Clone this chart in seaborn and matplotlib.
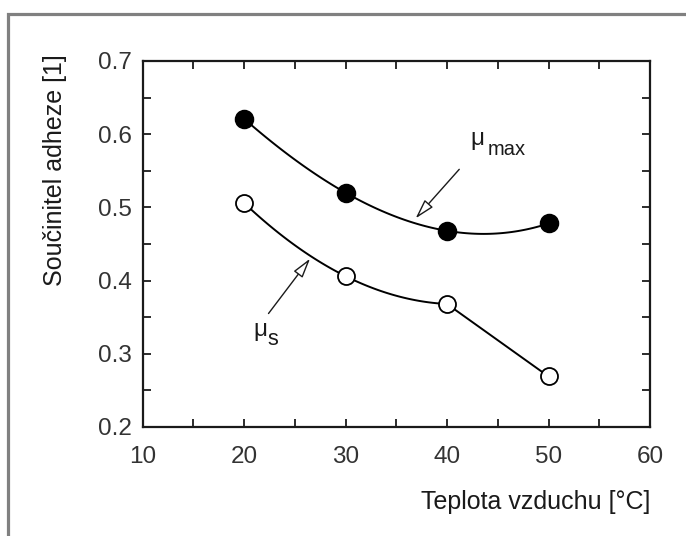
import numpy as np
import pandas as pd
import matplotlib
matplotlib.use("Agg")
import matplotlib.pyplot as plt
import seaborn as sns
from matplotlib.patches import Rectangle
from matplotlib.ticker import MultipleLocator

teplota = [20, 30, 40, 50]
mu_max = [0.621, 0.520, 0.468, 0.478]
mu_s = [0.506, 0.406, 0.368, 0.269]

df = pd.DataFrame({"teplota": teplota, "mu_max": mu_max, "mu_s": mu_s})

sns.set_theme(style="ticks")
plt.rcParams["font.family"] = ["Liberation Sans", "DejaVu Sans"]

ink = "#1a1a1a"
fig = plt.figure(figsize=(6.86, 5.36), dpi=100)
ax = fig.add_axes([0.208, 0.2034, 0.7395, 0.6828])

# mu_max hladka krivka
sns.regplot(data=df, x="teplota", y="mu_max", order=3, ci=None, scatter=False,
            color="black", line_kws=dict(lw=1.4), ax=ax)
# mu_s: oblouk 20-40, pak skoro rovne
sns.regplot(data=df.iloc[:3], x="teplota", y="mu_s", order=2, ci=None, scatter=False,
            color="black", line_kws=dict(lw=1.4), ax=ax)
sns.lineplot(data=df.iloc[2:], x="teplota", y="mu_s", color="black", lw=1.4, ax=ax)

sns.scatterplot(data=df, x="teplota", y="mu_max", s=165, color="black",
                edgecolor="black", linewidth=1.2, zorder=4, ax=ax)
sns.scatterplot(data=df, x="teplota", y="mu_s", s=150, color="white",
                edgecolor="black", linewidth=1.3, zorder=4, ax=ax)

ax.set_xlim(10, 60)
ax.set_ylim(0.2, 0.7)
ax.xaxis.set_major_locator(MultipleLocator(10))
ax.xaxis.set_minor_locator(MultipleLocator(5))
ax.yaxis.set_major_locator(MultipleLocator(0.1))
ax.yaxis.set_minor_locator(MultipleLocator(0.05))
ax.tick_params(which="both", direction="in", top=True, right=True,
               width=1.3, color=ink, labelcolor="#333333", labelsize=17.5)
ax.tick_params(which="major", length=6)
ax.tick_params(which="minor", length=5.5)
ax.tick_params(axis="x", pad=14)
ax.tick_params(axis="y", pad=8)
for s in ax.spines.values():
    s.set_linewidth(1.6)
    s.set_color(ink)

ax.set_xlabel("Teplota vzduchu [°C]", fontsize=18, color=ink, ha="right", va="center")
ax.xaxis.set_label_coords(1.0, -0.205)
ax.set_ylabel("Součinitel adheze [1]", fontsize=18, color=ink, va="center")
ax.yaxis.set_label_coords(-0.173, 0.703)

arrow = dict(arrowstyle="-|>,head_length=1.0,head_width=0.28", fc="white",
             ec=ink, lw=1.0, shrinkA=0, shrinkB=0)
ax.annotate("", xy=(36.9, 0.485), xytext=(41.2, 0.552), arrowprops=arrow)
ax.annotate("", xy=(26.5, 0.430), xytext=(22.4, 0.355), arrowprops=arrow)

ax.text(43.0, 0.594, "μ", fontsize=17.5, color=ink, ha="center", va="center")
ax.text(44.0, 0.579, "max", fontsize=14.5, color=ink, ha="left", va="center")
ax.text(21.6, 0.332, "μ", fontsize=17.5, color=ink, ha="center", va="center")
ax.text(22.3, 0.319, "s", fontsize=15.5, color=ink, ha="left", va="center")

# sedy ramecek kolem obrazku
fig.patches.append(Rectangle((8 / 686, -0.2), 1.2, 1.2 - 14 / 536,
                             transform=fig.transFigure, fill=False,
                             ec="#808080", lw=2.3))

fig.savefig("out.png", dpi=100)
